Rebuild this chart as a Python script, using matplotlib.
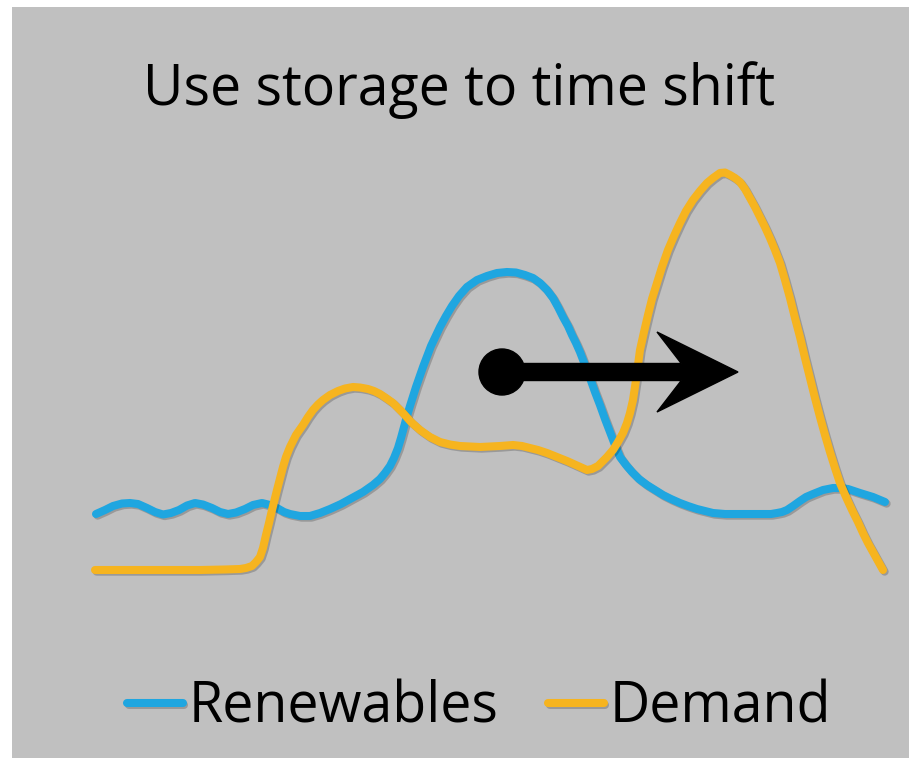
import numpy as np
import matplotlib
matplotlib.use("Agg")
import matplotlib.pyplot as plt
import matplotlib.patheffects as pe
from matplotlib.patches import Rectangle, Circle, FancyArrow

# --- data: time step vs. power ---
renew_t = [1, 10, 18, 27, 35, 43, 52, 60, 68, 76, 84, 92, 100, 108, 117, 125,
           133, 141, 150, 158, 167, 175, 182, 189, 195, 205, 215, 225, 235, 246,
           257, 268, 278, 285, 290, 295, 299, 303, 306, 309, 312, 315, 321, 328, 336,
           345, 351, 357, 364, 372, 382, 392, 402, 412, 421, 430, 438, 445, 452,
           458, 463, 468, 473, 477, 481, 485, 490, 495, 500, 505, 510, 515, 520,
           525, 531, 537, 544, 552, 560, 568, 576, 585, 593, 602, 610, 618, 630,
           645, 668, 676, 682, 687, 692, 698, 705, 711, 718, 728, 738, 746, 753,
           759, 765, 778, 790]
renew_p = [56, 60, 64, 66.5, 67, 66, 62, 58, 55.5, 57, 60, 64.5, 67, 65.5, 62, 58,
           56, 57.5, 61, 65, 67, 65, 62, 58, 56, 54, 54, 57, 61, 66,
           72, 78, 85, 91, 97, 104, 112, 122, 132, 143, 154, 164, 183, 203, 224,
           243, 254, 264, 274, 283, 290, 294, 297, 298, 297.5, 295, 292, 287, 280,
           272, 263, 253, 244, 235, 227, 218, 205, 192, 178, 165, 151, 138, 125,
           113, 105, 98, 91, 85, 80, 75, 71, 67, 64, 61, 59, 57, 56,
           56, 56, 56, 57, 58, 60, 64, 69, 73, 76, 80, 82, 82, 81,
           79, 77, 73, 68]

demand_t = [0, 55, 105, 130, 145, 151, 157, 161, 165, 168, 171, 174, 177, 182,
            188, 191, 195, 201, 208, 213, 218, 223, 228, 235, 243, 250, 258, 265,
            273, 279, 285, 291, 298, 303, 308, 316, 325, 335, 345, 355, 365, 375,
            385, 395, 405, 418, 427, 435, 443, 452, 462, 472, 482, 492, 497, 503,
            507, 512, 518, 523, 528, 532, 535, 538, 541, 545, 549, 553, 557, 562,
            567, 573, 579, 585, 591, 598, 605, 612, 618, 625, 630, 635, 640, 645,
            650, 655, 660, 665, 670, 675, 680, 685, 690, 695, 700, 705, 710, 715,
            720, 725, 730, 735, 740, 745, 751, 757, 763, 768, 773, 778, 783, 788]
demand_p = [0, 0, 0, 0.5, 1, 2, 4, 8, 13, 22, 35, 47, 60, 80,
            103, 113, 123, 135, 145, 153, 160, 165.5, 170, 175, 179, 181.5, 183, 182.5,
            181, 179, 176, 172, 167, 162, 157, 148, 140, 133, 128, 125.5, 124, 123.5,
            123, 123.5, 124, 125, 124, 122, 120, 117, 113, 109, 104.5, 100, 101, 104,
            108, 113, 120, 128, 137, 147, 157, 170, 190, 220, 238, 255, 271, 287,
            303, 320, 334, 347, 359, 370, 379, 387, 392, 397, 397.5, 395, 392, 388,
            381, 372, 363, 353, 343, 332, 320, 307, 290, 272, 252, 233, 212, 192,
            172, 153, 135, 118, 102, 87, 73, 60, 48, 37, 27, 18, 9, 0]

labels = ["Renewables", "Demand"]
colors = ["#1FA6E0", "#F6B41F"]

# arrow: from the renewables peak towards the demand peak
arrow_start = (407, 198)
arrow_len = 236

W, H = 909, 758
fig = plt.figure(figsize=(W / 100, H / 100), dpi=100, facecolor="#C0C0C0")
# thin white margin on top and left only
fig.add_artist(Rectangle((0, 0), 12 / W, 1, lw=0, transform=fig.transFigure,
                         facecolor="white", zorder=0))
fig.add_artist(Rectangle((0, 1 - 7 / H), 1, 7 / H, lw=0, transform=fig.transFigure,
                         facecolor="white", zorder=0))

ax = fig.add_axes([95 / W, 188 / H, 790 / W, 397 / H])
ax.set_xlim(0, 790)
ax.set_ylim(0, 397)
ax.axis("off")

shadow = [pe.SimpleLineShadow(offset=(1.2, -1.2), shadow_color="k", alpha=0.2),
          pe.Normal()]

for t, p, lab, c in zip([renew_t, demand_t], [renew_p, demand_p], labels, colors):
    ax.plot(t, p, color=c, lw=5.8, label=lab, solid_capstyle="round",
            solid_joinstyle="round", clip_on=False, path_effects=shadow)

ax.add_patch(FancyArrow(arrow_start[0], arrow_start[1], arrow_len, 0,
                        width=17, head_width=80, head_length=81, overhang=0.3,
                        length_includes_head=True, color="black", zorder=5))
ax.add_patch(Circle(arrow_start, 23, color="black", zorder=5))

font = "Open Sans"
fig.text(0.505, 1 - 105 / H, "Use storage to time shift", ha="center",
         va="baseline", fontsize=40, family=font)

leg = fig.legend(loc="center", bbox_to_anchor=(0.527, 1 - 708 / H), ncol=2,
                 frameon=False, prop={"family": font, "size": 40},
                 handlelength=1.0, handletextpad=0.1, columnspacing=0.9)

plt.savefig("out.png", dpi=100, facecolor=fig.get_facecolor())
